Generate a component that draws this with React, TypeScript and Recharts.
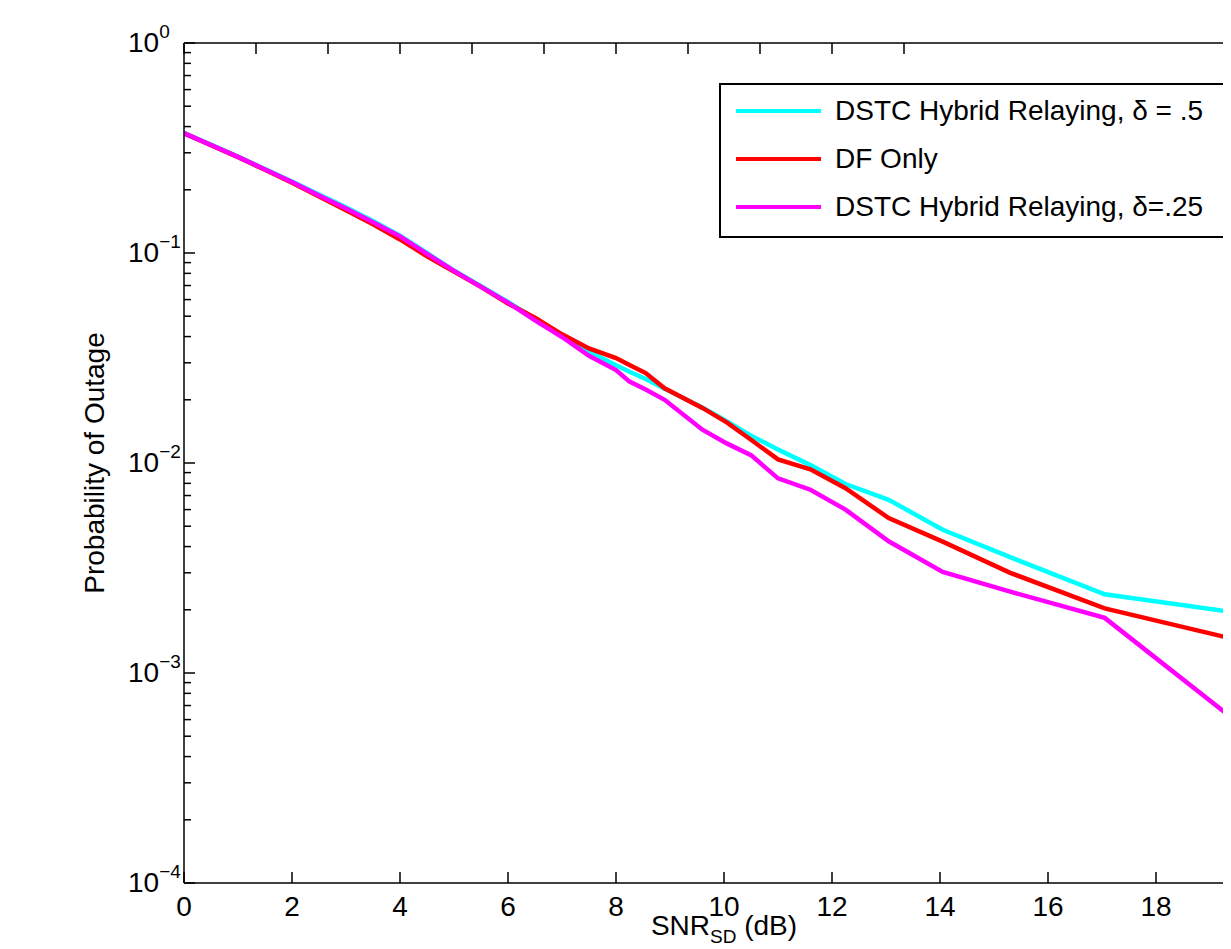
import React from "react";
import { LineChart, Line, XAxis, YAxis, Legend } from "recharts";

const FONT = "'Liberation Sans', Arial, Helvetica, sans-serif";
const VISIBLE_WIDTH = 1223;

// SNR_SD in dB (shared x values of the three curves)
const snrDb = [
  0, 0.5, 1, 1.5, 2, 2.5, 3, 3.5, 4, 4.5, 5, 5.5, 6, 6.5, 7, 7.5, 8, 8.25,
  8.55, 8.9, 9.6, 10.05, 10.5, 11, 11.6, 12.25, 13.05, 14.05, 15.3, 17.05, 20,
];

// outage probability, DSTC hybrid relaying, delta = .5
const dstcHalf = [
  0.372, 0.328, 0.288, 0.251, 0.219, 0.19, 0.165, 0.142, 0.121, 0.1, 0.0825,
  0.0695, 0.0585, 0.0485, 0.0402, 0.0339, 0.0292, 0.0272, 0.0251, 0.0226,
  0.0184, 0.0158, 0.0135, 0.0116, 0.00977, 0.00794, 0.00668, 0.00481,
  0.00356, 0.00237, 0.00186,
];

// outage probability, DF only
const dfOnly = [
  0.372, 0.326, 0.286, 0.249, 0.216, 0.186, 0.16, 0.137, 0.116, 0.0965,
  0.0815, 0.069, 0.0575, 0.0492, 0.041, 0.0351, 0.0316, 0.0293, 0.0268,
  0.0227, 0.0183, 0.0156, 0.0129, 0.0104, 0.00933, 0.00759, 0.00547, 0.00422,
  0.003, 0.00203, 0.00134,
];

// outage probability, DSTC hybrid relaying, delta = .25
const dstcQuarter = [
  0.372, 0.327, 0.287, 0.25, 0.218, 0.188, 0.163, 0.14, 0.12, 0.099, 0.0822,
  0.069, 0.058, 0.0478, 0.0398, 0.0324, 0.0277, 0.0244, 0.0224, 0.02, 0.0144,
  0.0124, 0.0109, 0.00845, 0.00746, 0.006, 0.00424, 0.00303, 0.00244,
  0.00183, 0.000464,
];

const seriesKeys = ["half", "df", "quarter"];
const seriesNames = [
  "DSTC Hybrid Relaying, \u03b4 = .5",
  "DF Only",
  "DSTC Hybrid Relaying, \u03b4=.25",
];
const seriesColors = ["#00ffff", "#ff0000", "#ff00ff"];

const xTicks = [0, 2, 4, 6, 8, 10, 12, 14, 16, 18, 20];
const decades = [-4, -3, -2, -1, 0];
const minorSteps = [2, 3, 4, 5, 6, 7, 8, 9];

const yTicks: number[] = [];
decades.forEach((e) => {
  yTicks.push(Math.pow(10, e));
  if (e < 0) minorSteps.forEach((m) => yTicks.push(m * Math.pow(10, e)));
});

const data = snrDb.map((s, i) => ({
  snr: s,
  half: dstcHalf[i],
  df: dfOnly[i],
  quarter: dstcQuarter[i],
}));

const isDecade = (v: number) =>
  Math.abs(Math.log10(v) - Math.round(Math.log10(v))) < 1e-6;

const BottomTick = (props: any) => {
  const { x, y, payload } = props;
  // the figure is cropped on the right, the last label falls outside it
  const shown = x < VISIBLE_WIDTH - 20;
  return (
    <g>
      <line x1={x} x2={x} y1={y} y2={y - 11} stroke="#000" strokeWidth={1.5} />
      {shown && (
        <text
          x={x}
          y={y + 33}
          textAnchor="middle"
          fontSize={28}
          fontFamily={FONT}
          fill="#000"
        >
          {payload.value}
        </text>
      )}
    </g>
  );
};

const TopTick = (props: any) => {
  const { x, y } = props;
  return <line x1={x} x2={x} y1={y} y2={y + 11} stroke="#000" strokeWidth={1.5} />;
};

const LeftTick = (props: any) => {
  const { x, y, payload } = props;
  const v = payload.value;
  const major = isDecade(v);
  const e = Math.round(Math.log10(v));
  return (
    <g>
      <line x1={x} x2={x + (major ? 11 : 7)} y1={y} y2={y} stroke="#000" strokeWidth={1.5} />
      {major && (
        <text x={x - 56} y={y + 9} fontSize={28} fontFamily={FONT} fill="#000">
          10
          <tspan dy={-14} fontSize={19}>
            {e === 0 ? "0" : "\u2212" + -e}
          </tspan>
        </text>
      )}
    </g>
  );
};

const RightTick = (props: any) => {
  const { x, y, payload } = props;
  const major = isDecade(payload.value);
  return <line x1={x} x2={x - (major ? 11 : 7)} y1={y} y2={y} stroke="#000" strokeWidth={1.5} />;
};

const XTitle = () => (
  <text x={716} y={927} textAnchor="middle" fontSize={28} fontFamily={FONT} fill="#000">
    SNR
    <tspan dy={8} fontSize={19}>
      SD
    </tspan>
    <tspan dy={-8} fontSize={28}>
      {" (dB)"}
    </tspan>
  </text>
);

const YTitle = () => (
  <text
    x={96}
    y={455}
    transform="rotate(-90, 96, 455)"
    textAnchor="middle"
    fontSize={28}
    fontFamily={FONT}
    fill="#000"
  >
    Probability of Outage
  </text>
);

const LegendBox = () => (
  <div
    style={{
      boxSizing: "border-box",
      width: 535,
      height: 155,
      border: "2px solid #000",
      background: "#fff",
      padding: "2px 0 0 15px",
      fontFamily: FONT,
      fontSize: 28,
      color: "#000",
    }}
  >
    {seriesNames.map((name, i) => (
      <div key={name} style={{ display: "flex", alignItems: "center", height: 48 }}>
        <div style={{ width: 85, height: 4, background: seriesColors[i] }} />
        <span style={{ marginLeft: 14, whiteSpace: "nowrap" }}>{name}</span>
      </div>
    ))}
  </div>
);

export default function App() {
  return (
    <div style={{ width: VISIBLE_WIDTH, height: 941, overflow: "hidden", background: "#fff" }}>
      <LineChart
        width={1296}
        height={941}
        data={data}
        margin={{ top: 34, right: 39, bottom: 65, left: 175 }}
      >
        <XAxis
          dataKey="snr"
          type="number"
          domain={[0, 20]}
          ticks={xTicks}
          interval={0}
          allowDataOverflow
          height={1}
          tickSize={0}
          tickMargin={0}
          tickLine={false}
          tick={<BottomTick />}
          axisLine={{ stroke: "#000", strokeWidth: 1.5 }}
          label={XTitle}
        />
        <XAxis
          xAxisId="top"
          orientation="top"
          type="number"
          domain={[0, 20]}
          ticks={xTicks}
          interval={0}
          allowDataOverflow
          height={1}
          tickSize={0}
          tickMargin={0}
          tickLine={false}
          tick={<TopTick />}
          axisLine={{ stroke: "#000", strokeWidth: 1.5 }}
        />
        <YAxis
          type="number"
          scale="log"
          domain={[1e-4, 1]}
          ticks={yTicks}
          interval={0}
          allowDataOverflow
          width={1}
          tickSize={0}
          tickMargin={0}
          tickLine={false}
          tick={<LeftTick />}
          axisLine={{ stroke: "#000", strokeWidth: 1.5 }}
          label={YTitle}
        />
        <YAxis
          yAxisId="right"
          orientation="right"
          type="number"
          scale="log"
          domain={[1e-4, 1]}
          ticks={yTicks}
          interval={0}
          allowDataOverflow
          width={1}
          tickSize={0}
          tickMargin={0}
          tickLine={false}
          tick={<RightTick />}
          axisLine={{ stroke: "#000", strokeWidth: 1.5 }}
        />
        <Legend
          layout="vertical"
          align="center"
          verticalAlign="middle"
          wrapperStyle={{ left: 711, top: 75, width: 535 }}
          content={() => <LegendBox />}
        />
        {seriesKeys.map((k, i) => (
          <Line
            key={k}
            type="linear"
            dataKey={k}
            name={seriesNames[i]}
            stroke={seriesColors[i]}
            strokeWidth={4.5}
            dot={false}
            activeDot={false}
            isAnimationActive={false}
          />
        ))}
      </LineChart>
    </div>
  );
}
